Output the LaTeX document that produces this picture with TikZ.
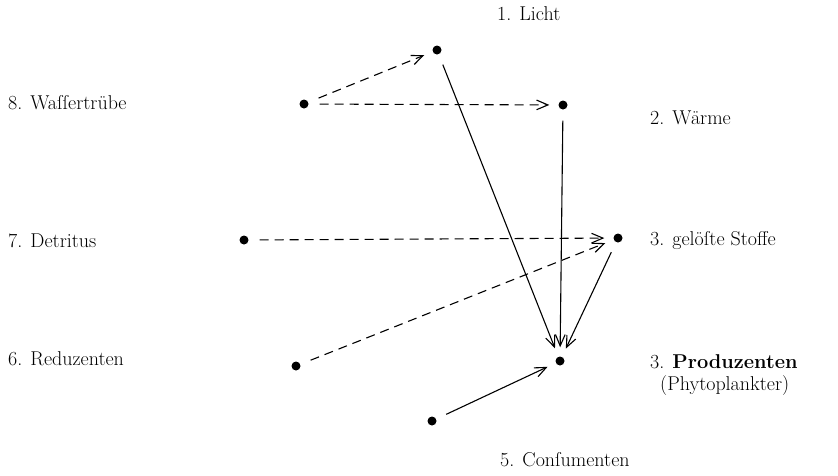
\documentclass[tikz,border=0pt]{standalone}
\usepackage{tikz}
\usetikzlibrary{arrows.meta, positioning}
\begin{document}
\begin{tikzpicture}[x=1pt, y=-1pt,
		every node/.style={font=\fontsize{20}{24}\selectfont},
		dot/.style={circle, fill=black, inner sep=0pt, minimum size=9pt},
		lbl/.style={anchor=west, inner sep=0pt},
		dasharrow/.style={-{Straight Barb[length=4mm, width=3.4mm]}, dash pattern=on 9pt off 6pt, line width=1.1pt, shorten >=9pt, shorten <=11pt},
		solidarrow/.style={-{Straight Barb[length=4mm, width=3.4mm]}, line width=1.1pt, shorten >=9pt, shorten <=11pt}
	]
	\useasboundingbox (0,0) rectangle (838,475);

	% Points
	\node[dot] (licht) at (437,50) {};
	\node[dot] (truebe) at (304,104) {};
	\node[dot] (waerme) at (563,105) {};
	\node[dot] (detritus) at (244,240) {};
	\node[dot] (stoffe) at (618,238) {};
	\node[dot] (reduz) at (296,366) {};
	\node[dot] (prod) at (560,361) {};
	\node[dot] (consum) at (432,421) {};

	% Labels
	\node[lbl] (tlicht) at (497,14) {1. Licht};
	\node[lbl] (ttruebe) at (8,103) {8. Waſſertrübe};
	\node[lbl] (twaerme) at (650,118) {2. Wärme};
	\node[lbl] (tdetritus) at (8,241) {7. Detritus};
	\node[lbl] (tstoffe) at (650,241) {3. gelöſte Stoffe};
	\node[lbl] (treduz) at (8,359) {6. Reduzenten};
	\node[lbl] (tprod) at (650,362) {3. \textbf{Produzenten}};
	\node[lbl, below=6pt of tprod.south west, anchor=north west, xshift=10pt] (tphyto) {(Phytoplankter)};
	\node[lbl] (tconsum) at (500,460) {5. Conſumenten};

	% Dashed influences
	\draw[dasharrow] (truebe) -- (licht);
	\draw[dasharrow] (truebe) -- (waerme);
	\draw[dasharrow] (detritus) -- (stoffe);
	\draw[dasharrow] (reduz) -- (stoffe);

	% Solid influences on the producers
	\draw[solidarrow] (licht) -- (prod);
	\draw[solidarrow] (waerme) -- (prod);
	\draw[solidarrow] (stoffe) -- (prod);
	\draw[solidarrow] (consum) -- (prod);
\end{tikzpicture}
\end{document}
